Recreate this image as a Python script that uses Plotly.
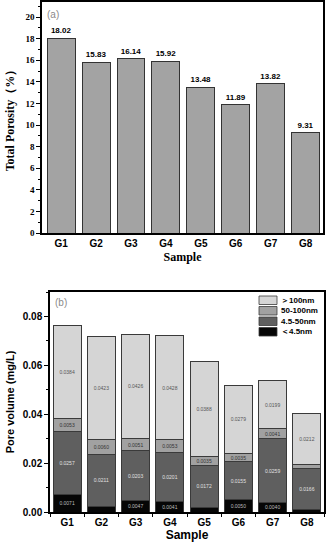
import plotly.graph_objects as go

samples = ["G1", "G2", "G3", "G4", "G5", "G6", "G7", "G8"]
total_porosity = [18.02, 15.83, 16.14, 15.92, 13.48, 11.89, 13.82, 9.31]

# Pore volume segments (mg/L)
pv_lt45 = [0.0071, 0.0024, 0.0047, 0.0041, 0.0019, 0.0050, 0.0040, 0.0010]
pv_45_50 = [0.0257, 0.0211, 0.0203, 0.0201, 0.0172, 0.0155, 0.0259, 0.0166]
pv_50_100 = [0.0053, 0.0060, 0.0051, 0.0053, 0.0035, 0.0035, 0.0041, 0.0017]
pv_gt100 = [0.0384, 0.0423, 0.0426, 0.0428, 0.0388, 0.0279, 0.0199, 0.0212]

lbl_lt45 = ["0.0071", "", "0.0047", "0.0041", "", "0.0050", "0.0040", ""]
lbl_45_50 = ["0.0257", "0.0211", "0.0203", "0.0201", "0.0172", "0.0155", "0.0259", "0.0166"]
lbl_50_100 = ["0.0053", "0.0060", "0.0051", "0.0053", "0.0035", "0.0035", "0.0041", ""]
lbl_gt100 = ["0.0384", "0.0423", "0.0426", "0.0428", "0.0388", "0.0279", "0.0199", "0.0212"]

legend_names = ["＞100nm", "50-100nm", "4.5-50nm", "＜4.5nm"]

W, H = 329, 550
def px(x): return x / W
def py(y): return 1 - y / H

SERIF = "Liberation Serif"
SANS = "Liberation Sans"

fig = go.Figure()

fig.add_trace(go.Bar(
    x=samples, y=total_porosity, xaxis="x", yaxis="y",
    marker=dict(color="#a3a3a3", line=dict(color="#333333", width=1)),
    width=0.8, text=[f"{v:.2f}" for v in total_porosity],
    textposition="outside", cliponaxis=False,
    textfont=dict(family=SANS, size=8, color="black", weight="bold"),
    showlegend=False,
))

colors = {"＜4.5nm": "#060606", "4.5-50nm": "#5f5f5f", "50-100nm": "#a1a1a1", "＞100nm": "#d5d5d5"}
series = [
    ("＜4.5nm", pv_lt45, lbl_lt45, "#bdbdbd"),
    ("4.5-50nm", pv_45_50, lbl_45_50, "#e0e0e0"),
    ("50-100nm", pv_50_100, lbl_50_100, "#333333"),
    ("＞100nm", pv_gt100, lbl_gt100, "#555555"),
]
for name, vals, lbls, tcol in series:
    fig.add_trace(go.Bar(
        x=samples, y=vals, name=name, xaxis="x2", yaxis="y2",
        marker=dict(color=colors[name], line=dict(color="#3a3a3a", width=1)),
        width=0.82, text=lbls, textposition="inside",
        insidetextanchor="middle", constraintext="none",
        textangle=0, showlegend=False,
        textfont=dict(family=SANS, size=5, color=tcol),
    ))

# custom legend (swatches + labels)
shapes = []
annotations = []
row_h = 10.5
top0 = 296
for i, name in enumerate(legend_names):
    y0 = top0 + i * row_h
    shapes.append(dict(type="rect", xref="paper", yref="paper",
                       x0=px(259), x1=px(277), y0=py(y0 + 8.5), y1=py(y0),
                       fillcolor=colors[name], line=dict(color="#3a3a3a", width=0.8)))
    annotations.append(dict(text=name, x=px(279), y=py(y0 + 4.3), xref="paper", yref="paper",
                            xanchor="left", yanchor="middle", showarrow=False,
                            font=dict(family=SANS, size=8, color="black", weight="bold")))

annotations += [
    dict(text="(a)", x=px(45), y=py(15), xref="paper", yref="paper",
         xanchor="left", yanchor="middle", showarrow=False,
         font=dict(family=SANS, size=10, color="#8a8a8a")),
    dict(text="(b)", x=px(53), y=py(302), xref="paper", yref="paper",
         xanchor="left", yanchor="middle", showarrow=False,
         font=dict(family=SANS, size=10, color="#8a8a8a")),
]

fig.update_layout(
    width=W, height=H,
    margin=dict(l=0, r=0, t=0, b=0, autoexpand=False),
    paper_bgcolor="white", plot_bgcolor="white",
    barmode="stack",
    showlegend=False,
    xaxis=dict(
        domain=[px(42), px(323)], anchor="y",
        range=[-0.55, 7.5],
        showline=True, mirror=True, linecolor="black", linewidth=1.5,
        ticks="", tickfont=dict(family=SANS, size=10, color="black", weight="bold"),
        title=dict(text="Sample", font=dict(family=SERIF, size=12, color="black", weight="bold"), standoff=5),
        showgrid=False, zeroline=False,
    ),
    yaxis=dict(
        domain=[py(233), py(2)], anchor="x",
        range=[0, 21.4],
        tickvals=[0, 2, 4, 6, 8, 10, 12, 14, 16, 18, 20],
        showline=True, mirror=True, linecolor="black", linewidth=1.5,
        ticks="outside", ticklen=4, tickwidth=1, tickcolor="black",
        minor=dict(ticks="outside", ticklen=2, dtick=1, tickcolor="black"),
        tickfont=dict(family=SERIF, size=9, color="black", weight="bold"),
        title=dict(text="Total Porosity（%）", font=dict(family=SERIF, size=12, color="black", weight="bold"), standoff=8),
        showgrid=False, zeroline=False,
    ),
    xaxis2=dict(
        domain=[px(50), px(324)], anchor="y2",
        range=[-0.5, 7.5],
        showline=True, mirror=True, linecolor="black", linewidth=1.5,
        ticks="outside", ticklen=3, tickcolor="black", tickson="boundaries",
        tickfont=dict(family=SANS, size=10, color="black", weight="bold"),
        title=dict(text="Sample", font=dict(family=SANS, size=12, color="black", weight="bold"), standoff=4),
        showgrid=False, zeroline=False,
    ),
    yaxis2=dict(
        domain=[py(512), py(292)], anchor="x2",
        range=[0, 0.09],
        tickvals=[0, 0.02, 0.04, 0.06, 0.08],
        ticktext=["0.00", "0.02", "0.04", "0.06", "0.08"],
        showline=True, mirror=True, linecolor="black", linewidth=1.5,
        ticks="outside", ticklen=4, tickwidth=1, tickcolor="black",
        minor=dict(ticks="outside", ticklen=2, dtick=0.01, tickcolor="black"),
        tickfont=dict(family=SANS, size=10, color="black", weight="bold"),
        title=dict(text="Pore volume (mg/L)", font=dict(family=SANS, size=11, color="black", weight="bold"), standoff=6),
        showgrid=False, zeroline=False,
    ),
    shapes=shapes,
    annotations=annotations,
)

fig.write_html(
    "out.html",
    config={"displayModeBar": False},
    post_script="document.body.style.margin='0';document.body.style.padding='0';"
                "document.documentElement.style.overflow='hidden';document.body.style.overflow='hidden';",
)
